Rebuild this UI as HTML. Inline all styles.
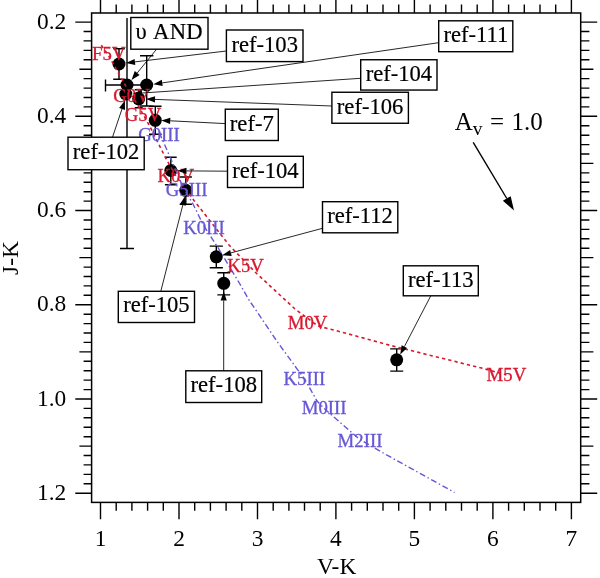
<!DOCTYPE html>
<html><head><meta charset="utf-8"><title>V-K vs J-K colour-colour diagram</title>
<style>html,body{margin:0;padding:0;background:#fff}svg{display:block}</style></head>
<body>
<svg width="600" height="578" viewBox="0 0 600 578" style="display:block">
<rect x="0" y="0" width="600" height="578" fill="#fff"/>
<defs><clipPath id="plot"><rect x="100" y="18" width="472" height="475.6"/></clipPath></defs>
<path d="M100.5 502.4V519.2M100.5 13.0V0M179.0 502.4V519.2M179.0 13.0V0M257.5 502.4V519.2M257.5 13.0V0M335.9 502.4V519.2M335.9 13.0V0M414.4 502.4V519.2M414.4 13.0V0M492.9 502.4V519.2M492.9 13.0V0M571.4 502.4V519.2M571.4 13.0V0M116.2 502.4V510.8M116.2 13.0V4.6M131.9 502.4V510.8M131.9 13.0V4.6M147.6 502.4V510.8M147.6 13.0V4.6M163.3 502.4V510.8M163.3 13.0V4.6M194.7 502.4V510.8M194.7 13.0V4.6M210.4 502.4V510.8M210.4 13.0V4.6M226.1 502.4V510.8M226.1 13.0V4.6M241.8 502.4V510.8M241.8 13.0V4.6M273.2 502.4V510.8M273.2 13.0V4.6M288.9 502.4V510.8M288.9 13.0V4.6M304.5 502.4V510.8M304.5 13.0V4.6M320.2 502.4V510.8M320.2 13.0V4.6M351.6 502.4V510.8M351.6 13.0V4.6M367.3 502.4V510.8M367.3 13.0V4.6M383.0 502.4V510.8M383.0 13.0V4.6M398.7 502.4V510.8M398.7 13.0V4.6M430.1 502.4V510.8M430.1 13.0V4.6M445.8 502.4V510.8M445.8 13.0V4.6M461.5 502.4V510.8M461.5 13.0V4.6M477.2 502.4V510.8M477.2 13.0V4.6M508.6 502.4V510.8M508.6 13.0V4.6M524.3 502.4V510.8M524.3 13.0V4.6M540.0 502.4V510.8M540.0 13.0V4.6M555.7 502.4V510.8M555.7 13.0V4.6M91.6 22.1H75.3M580.7 22.1H597.2M91.6 31.5H83.6M580.7 31.5H589.4M91.6 40.9H83.6M580.7 40.9H589.4M91.6 50.4H83.6M580.7 50.4H589.4M91.6 59.8H83.6M580.7 59.8H589.4M91.6 69.2H79.4M580.7 69.2H593.4M91.6 78.6H83.6M580.7 78.6H589.4M91.6 88.1H83.6M580.7 88.1H589.4M91.6 97.5H83.6M580.7 97.5H589.4M91.6 106.9H83.6M580.7 106.9H589.4M91.6 116.3H75.3M580.7 116.3H597.2M91.6 125.7H83.6M580.7 125.7H589.4M91.6 135.2H83.6M580.7 135.2H589.4M91.6 144.6H83.6M580.7 144.6H589.4M91.6 154.0H83.6M580.7 154.0H589.4M91.6 163.4H79.4M580.7 163.4H593.4M91.6 172.9H83.6M580.7 172.9H589.4M91.6 182.3H83.6M580.7 182.3H589.4M91.6 191.7H83.6M580.7 191.7H589.4M91.6 201.1H83.6M580.7 201.1H589.4M91.6 210.5H75.3M580.7 210.5H597.2M91.6 220.0H83.6M580.7 220.0H589.4M91.6 229.4H83.6M580.7 229.4H589.4M91.6 238.8H83.6M580.7 238.8H589.4M91.6 248.2H83.6M580.7 248.2H589.4M91.6 257.6H79.4M580.7 257.6H593.4M91.6 267.1H83.6M580.7 267.1H589.4M91.6 276.5H83.6M580.7 276.5H589.4M91.6 285.9H83.6M580.7 285.9H589.4M91.6 295.3H83.6M580.7 295.3H589.4M91.6 304.8H75.3M580.7 304.8H597.2M91.6 314.2H83.6M580.7 314.2H589.4M91.6 323.6H83.6M580.7 323.6H589.4M91.6 333.0H83.6M580.7 333.0H589.4M91.6 342.4H83.6M580.7 342.4H589.4M91.6 351.9H79.4M580.7 351.9H593.4M91.6 361.3H83.6M580.7 361.3H589.4M91.6 370.7H83.6M580.7 370.7H589.4M91.6 380.1H83.6M580.7 380.1H589.4M91.6 389.6H83.6M580.7 389.6H589.4M91.6 399.0H75.3M580.7 399.0H597.2M91.6 408.4H83.6M580.7 408.4H589.4M91.6 417.8H83.6M580.7 417.8H589.4M91.6 427.2H83.6M580.7 427.2H589.4M91.6 436.7H83.6M580.7 436.7H589.4M91.6 446.1H79.4M580.7 446.1H593.4M91.6 455.5H83.6M580.7 455.5H589.4M91.6 464.9H83.6M580.7 464.9H589.4M91.6 474.4H83.6M580.7 474.4H589.4M91.6 483.8H83.6M580.7 483.8H589.4M91.6 493.2H75.3M580.7 493.2H597.2" stroke="#000" stroke-width="1.4" fill="none"/>
<rect x="91.6" y="13.0" width="489.1" height="489.4" fill="none" stroke="#000" stroke-width="1.5"/>
<g font-family="'Liberation Serif', 'Times New Roman', Times, serif" font-size="23.4px" fill="#000">
<text x="66.2" y="28.6" text-anchor="end">0.2</text>
<text x="66.2" y="122.8" text-anchor="end">0.4</text>
<text x="66.2" y="217.0" text-anchor="end">0.6</text>
<text x="66.2" y="311.3" text-anchor="end">0.8</text>
<text x="66.2" y="405.5" text-anchor="end">1.0</text>
<text x="66.2" y="499.7" text-anchor="end">1.2</text>
<text x="100.5" y="545.6" text-anchor="middle">1</text>
<text x="179.0" y="545.6" text-anchor="middle">2</text>
<text x="257.5" y="545.6" text-anchor="middle">3</text>
<text x="335.9" y="545.6" text-anchor="middle">4</text>
<text x="414.4" y="545.6" text-anchor="middle">5</text>
<text x="492.9" y="545.6" text-anchor="middle">6</text>
<text x="571.4" y="545.6" text-anchor="middle">7</text>
<text x="336.6" y="574.1" text-anchor="middle">V-K</text>
<text transform="translate(17.6 258) rotate(-90)" text-anchor="middle">J-K</text>
</g>
<path d="M119 48.8V79.3M113.2 48.8H124.8M113.2 79.3H124.8M127 18V248.5M120 248.5H134M146.7 55.8V106M140.0 55.8H153.39999999999998M140.0 106H153.39999999999998M138.7 89.8V107.7M134.7 89.8H142.7M134.7 107.7H142.7M155.3 106.3V134.3M149.0 106.3H161.60000000000002M149.0 134.3H161.60000000000002M170.8 157.2V184.7M164.9 157.2H176.70000000000002M164.9 184.7H176.70000000000002M185.8 177V204.2M179.70000000000002 177H191.9M179.70000000000002 204.2H191.9M216.3 246.1V267.7M209.70000000000002 246.1H222.9M209.70000000000002 267.7H222.9M223.75 272.8V294.9M217.35 272.8H230.15M217.35 294.9H230.15M396.7 348.9V371.1M390.2 348.9H403.2M390.2 371.1H403.2M105.5 85H148.5M105.5 79.5V91.5M148.5 79.5V91.5" stroke="#000" stroke-width="1.4" fill="none"/>
<circle cx="119" cy="64" r="6.5" fill="#000"/>
<circle cx="127" cy="85" r="6.5" fill="#000"/>
<circle cx="146.7" cy="85" r="6.5" fill="#000"/>
<circle cx="138.7" cy="98.8" r="6.5" fill="#000"/>
<circle cx="155.3" cy="120.3" r="6.5" fill="#000"/>
<circle cx="170.8" cy="170.5" r="6.5" fill="#000"/>
<circle cx="185.8" cy="190.3" r="6.5" fill="#000"/>
<circle cx="216.3" cy="256.8" r="6.5" fill="#000"/>
<circle cx="223.75" cy="283.3" r="6.5" fill="#000"/>
<circle cx="396.7" cy="359.8" r="6.5" fill="#000"/>
<circle cx="125.8" cy="94" r="6.5" fill="#000"/>
<g clip-path="url(#plot)" fill="none">
<polyline points="86.4,24.5 108.3,55.1 125.6,85.7 132.7,97.5 136.6,103.1 142.1,112.6 149.0,124.8 166.2,159.0 175.9,176.0 194.0,200.5 229.0,245.0 255.0,272.0 295.0,309.0 318.0,326.0 345.0,333.0 390.0,345.3 484.0,368.7 506.3,375.0" stroke="#d8182f" stroke-width="1.6" stroke-dasharray="3.3 3.1"/>
<polyline points="159.4,132.7 170.0,157.0 182.9,186.9 193.0,204.0 203.3,225.0 218.3,248.2 239.3,283.0 249.0,300.0 277.9,342.6 297.0,368.8 304.6,379.0 317.0,401.0 324.2,408.6 359.5,439.2 385.7,454.4 454.6,492.5" stroke="#6557d6" stroke-width="1.4" stroke-dasharray="6 2.7 1.5 2.7"/>
</g>
<g font-family="'Liberation Serif', 'Times New Roman', Times, serif" font-size="18.8px" text-anchor="middle" stroke-width="0.3">
<text x="108.75" y="59.5" fill="#d8182f" stroke="#d8182f">F5V</text>
<text x="131.5" y="101.5" fill="#d8182f" stroke="#d8182f">G0V</text>
<text x="143" y="121" fill="#d8182f" stroke="#d8182f">G5V</text>
<text x="175.7" y="181.7" fill="#d8182f" stroke="#d8182f">K0V</text>
<text x="245.6" y="272" fill="#d8182f" stroke="#d8182f">K5V</text>
<text x="307.6" y="328.5" fill="#d8182f" stroke="#d8182f">M0V</text>
<text x="506.4" y="380.8" fill="#d8182f" stroke="#d8182f">M5V</text>
<text x="159" y="140.5" fill="#6557d6" stroke="#6557d6">G0III</text>
<text x="186.6" y="195.8" fill="#6557d6" stroke="#6557d6">G5III</text>
<text x="204" y="233.6" fill="#6557d6" stroke="#6557d6">K0III</text>
<text x="304.3" y="385.3" fill="#6557d6" stroke="#6557d6">K5III</text>
<text x="324.2" y="414.1" fill="#6557d6" stroke="#6557d6">M0III</text>
<text x="360" y="446.6" fill="#6557d6" stroke="#6557d6">M2III</text>
</g>
<line x1="156.6" y1="49.2" x2="137.2" y2="73.0" stroke="#000" stroke-width="0.85"/><polygon points="131.5,80.0 134.8,71.1 139.6,75.0" fill="#000"/>
<line x1="226.4" y1="51.0" x2="134.9" y2="61.9" stroke="#000" stroke-width="0.85"/><polygon points="126.0,63.0 134.6,58.9 135.3,65.0" fill="#000"/>
<line x1="438.7" y1="42.7" x2="162.2" y2="82.9" stroke="#000" stroke-width="0.85"/><polygon points="153.3,84.2 161.8,79.8 162.7,86.0" fill="#000"/>
<line x1="360.7" y1="78.3" x2="142.0" y2="93.0" stroke="#000" stroke-width="0.85"/><polygon points="133.0,93.6 141.8,89.9 142.2,96.1" fill="#000"/>
<line x1="331.9" y1="106.0" x2="155.0" y2="99.4" stroke="#000" stroke-width="0.85"/><polygon points="146.0,99.1 155.1,96.3 154.9,102.5" fill="#000"/>
<line x1="225.3" y1="123.6" x2="170.3" y2="120.8" stroke="#000" stroke-width="0.85"/><polygon points="161.3,120.4 170.4,117.8 170.1,123.9" fill="#000"/>
<line x1="112.5" y1="137.2" x2="122.0" y2="108.9" stroke="#000" stroke-width="0.85"/><polygon points="124.9,100.4 125.0,109.9 119.1,107.9" fill="#000"/>
<line x1="227.5" y1="171.2" x2="186.5" y2="170.9" stroke="#000" stroke-width="0.85"/><polygon points="177.5,170.8 186.5,167.8 186.5,174.0" fill="#000"/>
<line x1="160.8" y1="291.3" x2="182.8" y2="205.0" stroke="#000" stroke-width="0.85"/><polygon points="185.0,196.3 185.8,205.8 179.8,204.3" fill="#000"/>
<line x1="322.5" y1="228.3" x2="230.9" y2="252.9" stroke="#000" stroke-width="0.85"/><polygon points="222.2,255.2 230.1,249.9 231.7,255.9" fill="#000"/>
<line x1="223.7" y1="370.8" x2="223.7" y2="300.5" stroke="#000" stroke-width="0.85"/><polygon points="223.7,291.5 226.8,300.5 220.6,300.5" fill="#000"/>
<line x1="430.8" y1="295.8" x2="404.4" y2="346.6" stroke="#000" stroke-width="0.85"/><polygon points="400.2,354.6 401.6,345.2 407.1,348.0" fill="#000"/>
<g font-family="'Liberation Serif', 'Times New Roman', Times, serif" font-size="22.6px" text-anchor="middle" fill="#000" stroke="#000" stroke-width="0.2">
<rect x="130.8" y="17.5" width="77.2" height="31.7" fill="#fff" stroke="#000" stroke-width="1.4"/>
<text x="135.6" y="38.7" text-anchor="start" letter-spacing="0.3">υ AND</text>
<rect x="226.4" y="30" width="76.6" height="31.6" fill="#fff" stroke="#000" stroke-width="1.4"/>
<text x="264.7" y="52.4">ref-103</text>
<rect x="438.7" y="20.8" width="74.1" height="30.9" fill="#fff" stroke="#000" stroke-width="1.4"/>
<text x="475.8" y="42.0">ref-111</text>
<rect x="360.7" y="59.75" width="76.3" height="30.3" fill="#fff" stroke="#000" stroke-width="1.4"/>
<text x="398.9" y="80.8">ref-104</text>
<rect x="331.9" y="92.25" width="76.5" height="31.0" fill="#fff" stroke="#000" stroke-width="1.4"/>
<text x="370.1" y="114.2">ref-106</text>
<rect x="225.3" y="109.2" width="53.0" height="31.3" fill="#fff" stroke="#000" stroke-width="1.4"/>
<text x="251.8" y="131.2">ref-7</text>
<rect x="68" y="137.2" width="76.2" height="32.5" fill="#fff" stroke="#000" stroke-width="1.4"/>
<text x="106.1" y="159.2">ref-102</text>
<rect x="227.5" y="156.3" width="75.8" height="31.2" fill="#fff" stroke="#000" stroke-width="1.4"/>
<text x="265.4" y="177.5">ref-104</text>
<rect x="322.5" y="201.7" width="75.3" height="31.1" fill="#fff" stroke="#000" stroke-width="1.4"/>
<text x="360.1" y="222.5">ref-112</text>
<rect x="118.3" y="291.3" width="76.2" height="31.2" fill="#fff" stroke="#000" stroke-width="1.4"/>
<text x="156.4" y="312.2">ref-105</text>
<rect x="403.3" y="265.8" width="75.0" height="30.0" fill="#fff" stroke="#000" stroke-width="1.4"/>
<text x="440.8" y="286.7">ref-113</text>
<rect x="185.8" y="370.8" width="75.9" height="31.7" fill="#fff" stroke="#000" stroke-width="1.4"/>
<text x="223.8" y="392.2">ref-108</text>
</g>
<text x="454.8" y="130.4" word-spacing="1.2" font-family="'Liberation Serif', 'Times New Roman', Times, serif" font-size="25px" fill="#000">A<tspan font-size="19.5px" dy="4.5">v</tspan><tspan dy="-4.5"> = 1.0</tspan></text>
<line x1="473.2" y1="142.4" x2="506.8" y2="198.5" stroke="#000" stroke-width="1.4"/><polygon points="514.0,210.5 502.9,200.8 510.7,196.2" fill="#000"/>
</svg>
</body></html>
